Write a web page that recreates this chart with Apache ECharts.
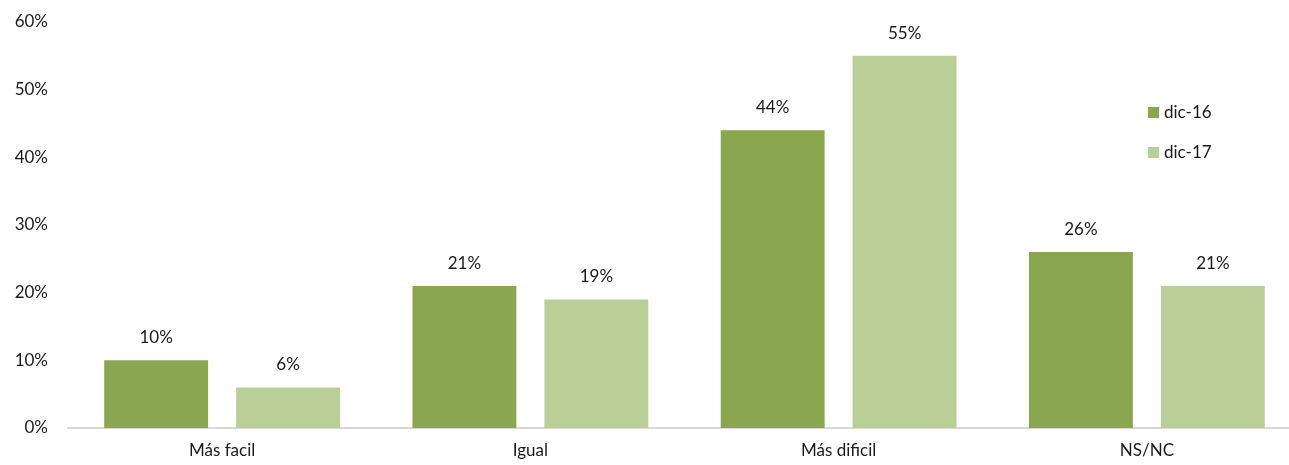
<!DOCTYPE html>
<html>
<head>
<meta charset="utf-8">
<script src="https://cdn.jsdelivr.net/npm/echarts@6/dist/echarts.min.js"></script>
<style>
  html, body { margin: 0; padding: 0; background: #ffffff; }
  #chart { width: 1289px; height: 465px; }
</style>
</head>
<body>
<div id="chart"></div>
<script>
// Answer categories along the x axis
const categories = ['Más facil', 'Igual', 'Más dificil', 'NS/NC'];
// Share of responses (%) per survey wave
const dic16 = [10, 21, 44, 26];
const dic17 = [6, 19, 55, 21];
const seriesNames = ['dic-16', 'dic-17'];
// Y axis tick range (%)
const yMin = 0, yMax = 60, yStep = 10;

const FONT = 'Lato, "Open Sans", sans-serif';
const TEXT = '#1a1a1a';
const FS = 17;

const labelOpt = {
  show: true,
  position: 'top',
  distance: 14,
  formatter: p => p.value + '%',
  color: TEXT,
  fontFamily: FONT,
  fontSize: FS
};

const chart = echarts.init(document.getElementById('chart'));
chart.setOption({
  animation: false,
  backgroundColor: '#ffffff',
  // plot area runs slightly past the right edge of the canvas
  grid: { left: 68, width: 1233, top: 22, bottom: 37, containLabel: false, outerBoundsMode: 'none' },
  legend: {
    orient: 'vertical',
    left: 1143,
    top: 99,
    itemWidth: 11,
    itemHeight: 11,
    itemGap: 23,
    icon: 'rect',
    textStyle: { color: TEXT, fontFamily: FONT, fontSize: FS },
    data: seriesNames
  },
  xAxis: {
    type: 'category',
    data: categories,
    axisLine: { show: true, lineStyle: { color: '#d9d9d9', width: 2 } },
    axisTick: { show: false },
    axisLabel: { color: TEXT, fontFamily: FONT, fontSize: FS, margin: 14 }
  },
  yAxis: {
    type: 'value',
    min: yMin,
    max: yMax,
    interval: yStep,
    axisLine: { show: false },
    axisTick: { show: false },
    splitLine: { show: false },
    axisLabel: {
      color: TEXT, fontFamily: FONT, fontSize: FS, margin: 20,
      formatter: v => v + '%'
    }
  },
  series: [
    {
      name: seriesNames[0],
      type: 'bar',
      data: dic16,
      barWidth: '33.7%',
      barGap: '27%',
      itemStyle: { color: '#8aa64e' },
      label: labelOpt
    },
    {
      name: seriesNames[1],
      type: 'bar',
      data: dic17,
      barWidth: '33.7%',
      barGap: '27%',
      itemStyle: { color: '#bacf97' },
      label: labelOpt
    }
  ]
});
</script>
</body>
</html>
